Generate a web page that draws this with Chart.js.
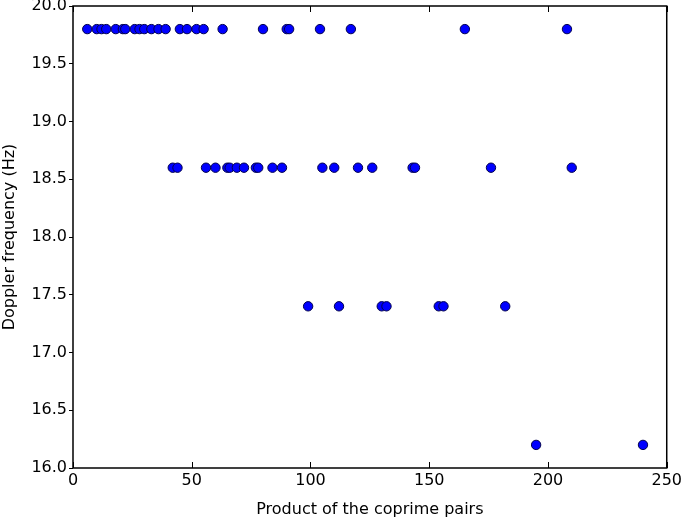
<!DOCTYPE html>
<html>
<head>
<meta charset="utf-8">
<script src="https://cdn.jsdelivr.net/npm/chart.js@4/dist/chart.umd.min.js"></script>
<style>
  html, body { margin: 0; padding: 0; background: #fff; }
  #wrap { width: 685px; height: 519px; }
</style>
</head>
<body>
<div id="wrap"><canvas id="chartCanvas"></canvas></div>
<script>
// products of the coprime pairs, grouped by the doppler frequency they give
const freqs = [19.8, 18.6, 17.4, 16.2];
const products198 = [6, 10, 12, 14, 18, 21, 22, 26, 28, 30, 33, 36, 39, 45, 48, 52, 55, 63, 80, 90, 91, 104, 117, 165, 208];
const products186 = [42, 44, 56, 60, 65, 66, 69, 72, 77, 78, 84, 88, 105, 110, 120, 126, 143, 144, 176, 210];
const products174 = [99, 112, 130, 132, 154, 156, 182];
const products162 = [195, 240];
const xTicks = [0, 50, 100, 150, 200, 250];

const groups = [products198, products186, products174, products162];
const points = [];
groups.forEach((g, i) => {
  g.forEach(p => points.push({ x: p, y: freqs[i] }));
});

Chart.defaults.font.family = "'DejaVu Sans', sans-serif";
Chart.defaults.font.size = 16;
Chart.defaults.color = "#000";

// matplotlib-ish frame: box + inward ticks on the x axis
const frame = {
  id: "frame",
  afterDraw(chart) {
    const { ctx, chartArea: a, scales } = chart;
    ctx.save();
    ctx.strokeStyle = "#000";
    ctx.lineWidth = 1.5;
    ctx.strokeRect(a.left, a.top, a.right - a.left, a.bottom - a.top);
    ctx.lineWidth = 1;
    xTicks.forEach(t => {
      const px = Math.round(scales.x.getPixelForValue(t)) + 0.5;
      ctx.beginPath();
      ctx.moveTo(px, a.bottom);
      ctx.lineTo(px, a.bottom - 6);
      ctx.moveTo(px, a.top);
      ctx.lineTo(px, a.top + 6);
      ctx.stroke();
    });
    ctx.restore();
  }
};

const ctx = document.getElementById("chartCanvas").getContext("2d");
new Chart(ctx, {
  type: "scatter",
  data: {
    datasets: [{
      data: points,
      backgroundColor: "#0000ff",
      borderColor: "#00004d",
      borderWidth: 1,
      pointRadius: 4.7,
      pointHoverRadius: 4.7
    }]
  },
  options: {
    responsive: true,
    maintainAspectRatio: false,
    animation: false,
    layout: { padding: { top: 6, right: 13, left: 0, bottom: 0 } },
    plugins: {
      legend: { display: false },
      tooltip: { enabled: false }
    },
    scales: {
      x: {
        type: "linear",
        min: 0,
        max: 250,
        afterBuildTicks: s => { s.ticks = xTicks.map(v => ({ value: v })); },
        afterFit: s => { s.height = 51; },
        grid: { display: false, drawTicks: false },
        border: { display: false },
        ticks: { padding: 3, maxRotation: 0 },
        title: { display: true, text: "Product of the coprime pairs", padding: { top: 10, bottom: 0 } }
      },
      y: {
        type: "linear",
        min: 16,
        max: 20,
        afterFit: s => { s.width = 73; s.paddingTop = 0; s.paddingBottom = 0; },
        grid: { drawOnChartArea: false, drawTicks: true, tickLength: 4, color: "#000" },
        border: { display: false },
        ticks: { stepSize: 0.5, padding: 2, callback: v => v.toFixed(1) },
        title: { display: true, text: "Doppler frequency (Hz)", padding: { top: 0, bottom: 4 } }
      }
    }
  },
  plugins: [frame]
});
</script>
</body>
</html>
